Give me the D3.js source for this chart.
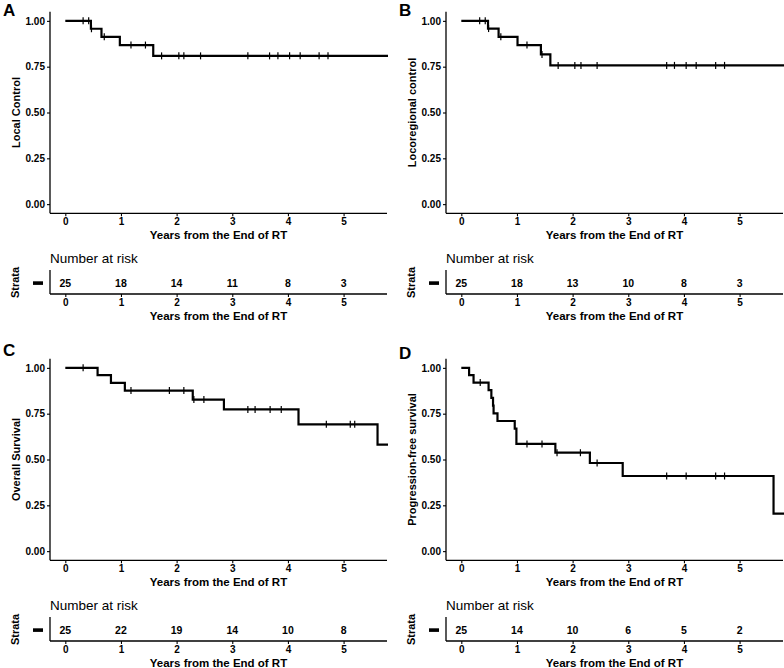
<!DOCTYPE html>
<html><head><meta charset="utf-8">
<script src="https://cdn.jsdelivr.net/npm/d3@7"></script>
<style>
body{margin:0;background:#fff;}
svg{display:block;}
text{font-family:"Liberation Sans",Arial,Helvetica,sans-serif;fill:#000;}
</style></head>
<body>
<svg id="chart" width="784" height="668"></svg>
<script>
// ---------- data ----------
const xTicks = [0, 1, 2, 3, 4, 5];
const yTicks = [0, 0.25, 0.5, 0.75, 1];
const yTickLabels = ["0.00", "0.25", "0.50", "0.75", "1.00"];
const panelLabels = ["A", "B", "C", "D"];
const yTitles = ["Local Control", "Locoregional control", "Overall Survival", "Progression-free survival"];
const xTitle = "Years from the End of RT";

const aEventTimes = [0.46, 0.65, 0.98, 1.58];
const aSurv = [0.957, 0.913, 0.868, 0.809];
const aCensor = [0.32, 0.42, 0.47, 0.70, 1.18, 1.44, 1.73, 2.04, 2.13, 2.43, 3.28, 3.67, 3.82, 4.03, 4.22, 4.56, 4.72];
const aRisk = [25, 18, 14, 11, 8, 3];

const bEventTimes = [0.48, 0.67, 1.01, 1.43, 1.60];
const bSurv = [0.958, 0.913, 0.868, 0.817, 0.757];
const bCensor = [0.33, 0.43, 0.49, 0.71, 1.18, 1.45, 1.74, 2.04, 2.15, 2.44, 3.69, 3.83, 4.04, 4.22, 4.57, 4.73];
const bRisk = [25, 18, 13, 10, 8, 3];

const cEventTimes = [0.58, 0.82, 1.07, 2.29, 2.85, 4.19, 5.61];
const cSurv = [0.96, 0.918, 0.876, 0.827, 0.773, 0.692, 0.581];
const cCensor = [0.32, 1.18, 1.87, 2.13, 2.31, 2.49, 3.28, 3.41, 3.68, 3.88, 4.69, 5.12, 5.20];
const cRisk = [25, 22, 19, 14, 10, 8];

const dEventTimes = [0.14, 0.22, 0.49, 0.54, 0.57, 0.58, 0.65, 0.96, 0.99, 1.69, 2.31, 2.90, 5.61];
const dSurv = [0.96, 0.92, 0.878, 0.836, 0.794, 0.752, 0.71, 0.668, 0.585, 0.537, 0.481, 0.41, 0.205];
const dCensor = [0.34, 1.18, 1.45, 1.72, 2.14, 2.44, 3.69, 4.04, 4.57, 4.73];
const dRisk = [25, 14, 10, 6, 5, 2];

const endTime = 5.8;

// ---------- drawing ----------
const svg = d3.select("#chart");
const panels = [
  {ox: 0,   oy: 0,   ev: aEventTimes, s: aSurv, cz: aCensor, risk: aRisk},
  {ox: 396, oy: 0,   ev: bEventTimes, s: bSurv, cz: bCensor, risk: bRisk},
  {ox: 0,   oy: 347, ev: cEventTimes, s: cSurv, cz: cCensor, risk: cRisk},
  {ox: 396, oy: 347, ev: dEventTimes, s: dSurv, cz: dCensor, risk: dRisk}
];
const labelDY = [16, 16, 356, 359];

const L = 50, R = 387, T = 11.7, B = 213.3;

panels.forEach((p, i) => {
  const g = svg.append("g").attr("transform", `translate(${p.ox},${p.oy})`);
  const x = d3.scaleLinear().domain([-0.275, 5.78]).range([L, R]);
  const y = d3.scaleLinear().domain([-0.05, 1.05]).range([B, T]);

  // clip
  const cid = "clip" + i;
  g.append("clipPath").attr("id", cid).append("rect")
    .attr("x", L).attr("y", T - 5).attr("width", R - L + 1).attr("height", B - T + 5);

  // step data
  const pts = [[0, 1]];
  let cur = 1;
  p.ev.forEach((t, k) => { pts.push([t, cur]); cur = p.s[k]; pts.push([t, cur]); });
  pts.push([endTime, cur]);
  const line = d3.line().x(d => x(d[0])).y(d => y(d[1]));
  g.append("path").attr("clip-path", `url(#${cid})`).attr("d", line(pts))
    .attr("fill", "none").attr("stroke", "#000").attr("stroke-width", 2.2)
    .attr("stroke-linejoin", "miter").attr("stroke-linecap", "butt");

  const survAt = t => { let v = 1; p.ev.forEach((e, k) => { if (e <= t) v = p.s[k]; }); return v; };
  g.append("g").selectAll("line").data(p.cz).join("line")
    .attr("x1", d => x(d)).attr("x2", d => x(d))
    .attr("y1", d => y(survAt(d)) - 3.5).attr("y2", d => y(survAt(d)) + 3.5)
    .attr("stroke", "#000").attr("stroke-width", 1.2);

  // axes
  const yAxis = g.append("g").attr("transform", `translate(${L},0)`)
    .call(d3.axisLeft(y).tickValues(yTicks).tickFormat((d, k) => yTickLabels[k]).tickSize(3).tickSizeOuter(0).tickPadding(2));
  const xAxis = g.append("g").attr("transform", `translate(0,${B})`)
    .call(d3.axisBottom(x).tickValues(xTicks).tickFormat(d3.format("d")).tickSize(3).tickSizeOuter(0).tickPadding(2));
  [yAxis, xAxis].forEach(a => {
    a.select(".domain").attr("stroke", "#000").attr("stroke-width", 1.3);
    a.selectAll(".tick line").attr("stroke", "#000").attr("stroke-width", 1.1);
    a.selectAll("text").attr("fill", "#000").style("font-size", "10px").style("font-weight", "bold")
      .style("font-family", '"Liberation Sans",Arial,sans-serif');
  });
  yAxis.select(".domain").attr("d", `M0,${T}V${B}`);
  xAxis.select(".domain").attr("d", `M${L},0H${R}`);

  // titles
  g.append("text").attr("x", 3).attr("y", labelDY[i] - p.oy)
    .style("font-size", "17px").style("font-weight", "bold").text(panelLabels[i]);
  g.append("text").attr("transform", `translate(16,${(T + B) / 2}) rotate(-90)`)
    .attr("text-anchor", "middle").attr("dominant-baseline", "central")
    .style("font-size", "11px").style("font-weight", "bold").text(yTitles[i]);
  g.append("text").attr("x", (L + R) / 2).attr("y", 234.5).attr("text-anchor", "middle")
    .attr("dominant-baseline", "central").style("font-size", "11.5px").style("font-weight", "bold").text(xTitle);

  // risk table
  const rt = g.append("g");
  rt.append("text").attr("x", L).attr("y", 258).attr("dominant-baseline", "central")
    .style("font-size", "13.5px").text("Number at risk");
  rt.append("text").attr("transform", `translate(15,282.5) rotate(-90)`)
    .attr("text-anchor", "middle").attr("dominant-baseline", "central")
    .style("font-size", "11px").style("font-weight", "bold").text("Strata");
  rt.append("rect").attr("x", 33).attr("y", 281.3).attr("width", 10).attr("height", 3.6).attr("fill", "#000");
  rt.append("line").attr("x1", L).attr("x2", L).attr("y1", 270).attr("y2", 294)
    .attr("stroke", "#000").attr("stroke-width", 1.3);
  const rAxis = rt.append("g").attr("transform", `translate(0,294)`)
    .call(d3.axisBottom(x).tickValues(xTicks).tickFormat(d3.format("d")).tickSize(3).tickSizeOuter(0).tickPadding(2));
  rAxis.select(".domain").attr("d", `M${L},0H${R}`).attr("stroke", "#000").attr("stroke-width", 1.3);
  rAxis.selectAll(".tick line").attr("stroke", "#000").attr("stroke-width", 1.1);
  rAxis.selectAll("text").attr("fill", "#000").style("font-size", "10px").style("font-weight", "bold")
    .style("font-family", '"Liberation Sans",Arial,sans-serif');
  rt.selectAll("text.num").data(p.risk).join("text").attr("class", "num")
    .attr("x", (d, k) => x(xTicks[k])).attr("y", 282.7).attr("text-anchor", "middle")
    .attr("dominant-baseline", "central").style("font-size", "10.5px").style("font-weight", "bold")
    .text(d => d);
  rt.append("text").attr("x", (L + R) / 2).attr("y", 315.7).attr("text-anchor", "middle")
    .attr("dominant-baseline", "central").style("font-size", "11.5px").style("font-weight", "bold").text(xTitle);
});
</script>
</body></html>
